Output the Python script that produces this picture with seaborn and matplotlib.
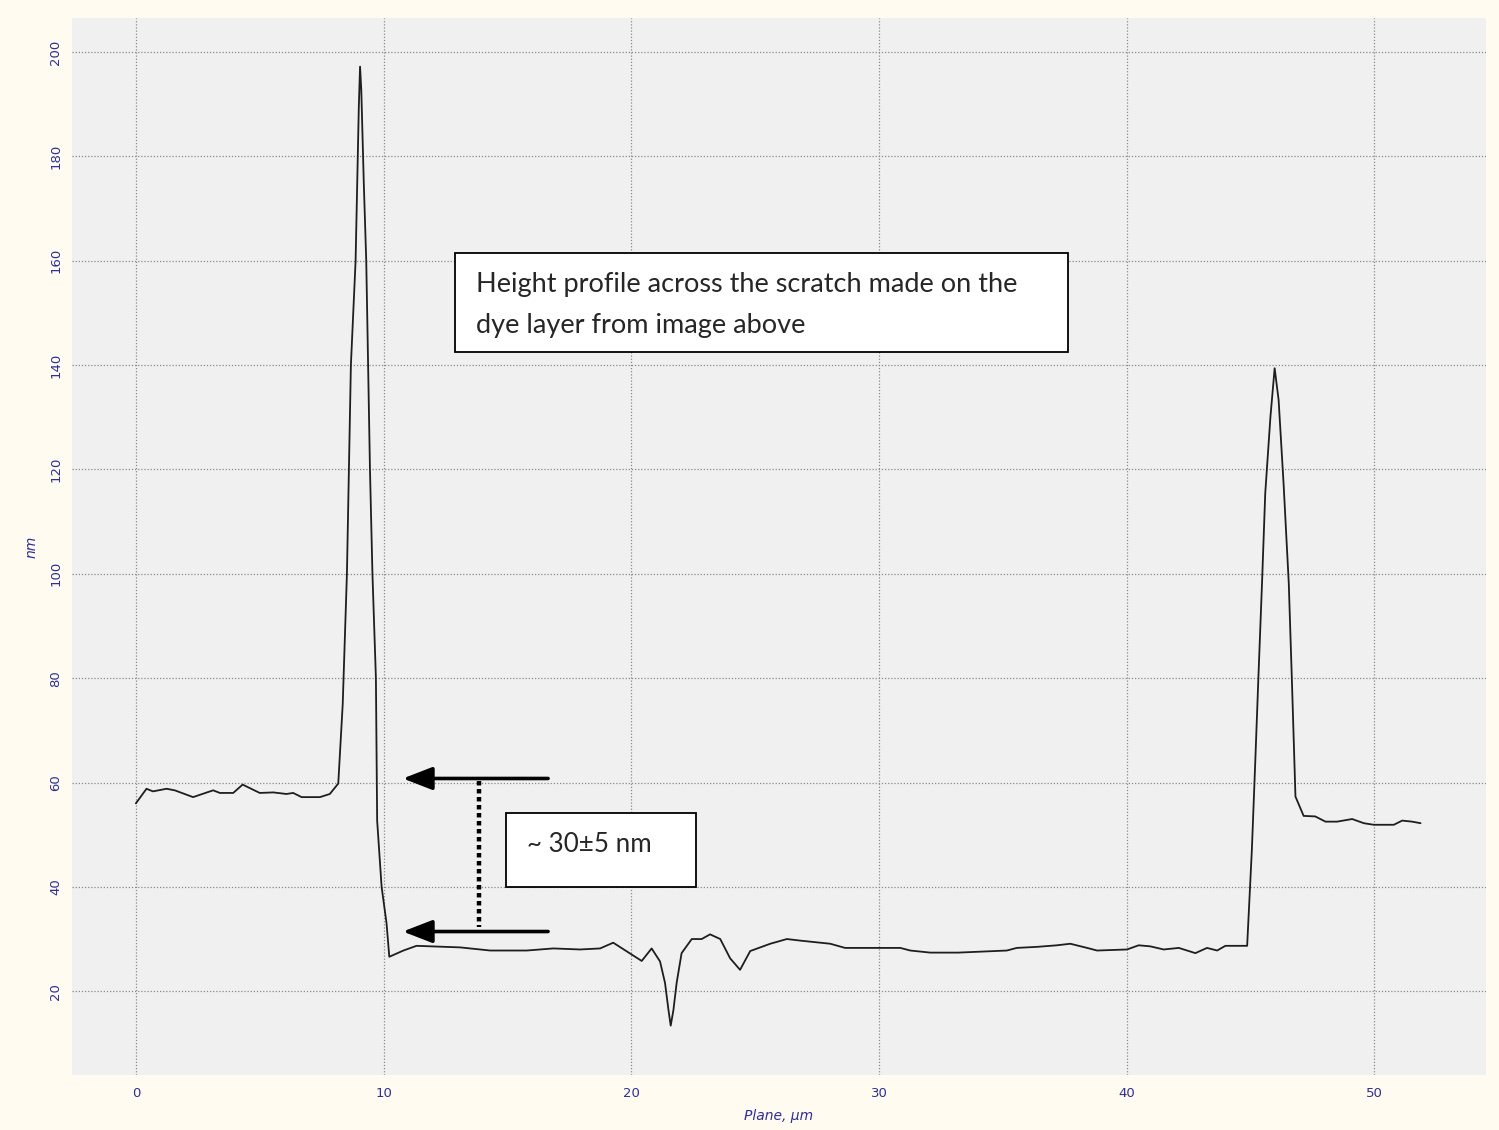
import matplotlib
matplotlib.use("Agg")
import matplotlib.pyplot as plt
import seaborn as sns
from matplotlib.patches import Rectangle

# height profile
plane_um = [0.0, 0.43, 0.69, 1.24, 1.57, 2.31, 3.12, 3.39, 3.93, 4.31, 5.0, 5.55, 6.08, 6.35,
            6.69, 7.43, 7.83, 8.17, 8.35, 8.52, 8.68, 8.87, 9.0, 9.05, 9.1, 9.2, 9.3, 9.45,
            9.55, 9.69, 9.74, 9.92, 10.12, 10.23, 10.8, 11.33, 13.09, 14.3, 15.78, 16.85,
            17.93, 18.74, 19.27, 20.42, 20.82, 21.16, 21.36, 21.5, 21.59, 21.7, 21.83, 22.03,
            22.44, 22.84, 23.18, 23.59, 23.99, 24.39, 24.8, 25.61, 26.28, 26.82, 27.22, 28.03,
            28.63, 30.86, 31.26, 32.07, 33.2, 35.16, 35.56, 36.37, 37.18, 37.72, 38.4, 38.8,
            40.01, 40.48, 40.95, 41.49, 42.1, 42.77, 43.24, 43.65, 43.98, 44.86, 45.05, 45.19,
            45.32, 45.46, 45.59, 45.8, 45.97, 46.13, 46.33, 46.54, 46.67, 46.81, 47.14, 47.61,
            48.02, 48.49, 49.1, 49.57, 49.97, 50.78, 51.12, 51.52, 51.86]
height_nm = [56.0, 58.8, 58.3, 58.8, 58.5, 57.2, 58.5, 58.0, 58.0, 59.6, 58.0, 58.1, 57.8, 58.0,
             57.2, 57.2, 57.8, 59.8, 75.0, 100.0, 140.0, 160.0, 189.5, 197.2, 192.7, 175.0, 160.0, 120.0,
             100.0, 80.0, 52.7, 40.0, 33.0, 26.6, 27.8, 28.7, 28.4, 27.8, 27.8, 28.2,
             28.0, 28.2, 29.3, 25.8, 28.2, 25.7, 21.6, 16.4, 13.4, 16.4, 21.6, 27.3,
             30.0, 30.0, 30.9, 30.0, 26.3, 24.1, 27.7, 29.1, 30.0, 29.7, 29.5, 29.1,
             28.3, 28.3, 27.8, 27.4, 27.4, 27.8, 28.3, 28.5, 28.8, 29.1, 28.3, 27.8,
             28.0, 28.8, 28.6, 28.0, 28.3, 27.3, 28.3, 27.8, 28.7, 28.7, 47.1, 64.3,
             80.9, 98.2, 115.4, 130.1, 139.4, 133.3, 117.3, 98.2, 79.0, 57.3, 53.6, 53.5,
             52.5, 52.5, 53.0, 52.2, 51.9, 51.9, 52.7, 52.5, 52.2]

x_ticks = [0, 10, 20, 30, 40, 50]
y_ticks = [20, 40, 60, 80, 100, 120, 140, 160, 180, 200]

title_lines = ["Height profile across the scratch made on the", "dye layer from image above"]
step_label = "~ 30\u00b15 nm"

sns.set_style("whitegrid", {"axes.facecolor": "#f0f0f0", "grid.color": "#8a8a8a",
                            "grid.linestyle": (0, (1, 1.5)), "axes.edgecolor": "#f0f0f0"})
plt.rcParams['font.family'] = ['DejaVu Sans']

fig = plt.figure(figsize=(14.99, 11.3), dpi=100, facecolor="#fffbf0")
ax = fig.add_axes([0.048, 0.0487, 0.9433, 0.9353])

sns.lineplot(x=plane_um, y=height_nm, ax=ax, color="#1e1e1e", linewidth=1.3,
             estimator=None, sort=False)

ax.set_xlim(-2.58, 54.5)
ax.set_ylim(3.95, 206.5)
ax.set_xticks(x_ticks)
ax.set_yticks(y_ticks)
ax.grid(True, linewidth=0.9)
for s in ax.spines.values():
    s.set_visible(False)

tick_col = "#2e2e96"
ax.tick_params(axis='x', length=0, pad=9, labelsize=9.5, labelcolor=tick_col)
ax.tick_params(axis='y', length=0, pad=7, labelsize=9.5, labelcolor=tick_col)
for lab in ax.get_yticklabels():
    lab.set_rotation(90)
    lab.set_va('center')
ax.set_xlabel("Plane, \u00b5m", fontsize=10, style='italic', color=tick_col, labelpad=6)
ax.set_ylabel("nm", fontsize=10, style='italic', color=tick_col, labelpad=8)

# annotation box with caption
ax.add_patch(Rectangle((12.88, 142.5), 24.76, 19.0, facecolor='white', edgecolor='black',
                       linewidth=1.3, zorder=5))
ax.text(13.73, 154.0, title_lines[0], fontsize=19.5, family='Lato', va='baseline', zorder=6)
ax.text(13.73, 146.15, title_lines[1], fontsize=19.5, family='Lato', va='baseline', zorder=6)

# step height box
ax.add_patch(Rectangle((14.94, 39.88), 7.68, 14.18, facecolor='white', edgecolor='black',
                       linewidth=1.3, zorder=5))
ax.text(15.79, 46.64, step_label, fontsize=18.7, family='Lato', va='baseline', zorder=6)

# arrows marking the two levels
for yy in [60.77, 31.44]:
    ax.annotate('', xy=(10.78, yy), xytext=(16.64, yy),
                arrowprops=dict(arrowstyle='-|>,head_length=0.9,head_width=0.35', lw=2.6,
                                color='black', shrinkA=0, shrinkB=0, mutation_scale=20),
                zorder=6)
ax.plot([13.85, 13.85], [60.2, 32.3], color='black', linewidth=3.2,
        linestyle=(0, (1, 0.8)), zorder=6)

fig.savefig("out.png", dpi=100, facecolor=fig.get_facecolor())
